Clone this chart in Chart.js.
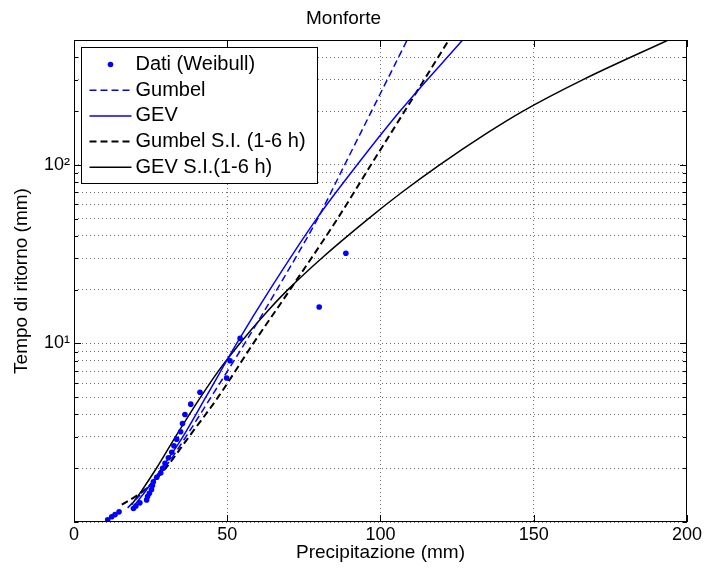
<!DOCTYPE html>
<html>
<head>
<meta charset="utf-8">
<title>Monforte</title>
<script src="https://cdn.jsdelivr.net/npm/chart.js@4.4.1/dist/chart.umd.min.js"></script>
<style>
  html, body { margin: 0; padding: 0; background: #fff; }
</style>
</head>
<body>
<canvas id="returnPeriodChart" width="704" height="574"></canvas>
<script>
// annual maxima (mm) and their Weibull return periods (years)
var obsRain = [88.7, 80.0, 54.2, 50.9, 49.8, 41.1, 38.1, 36.2, 35.4, 34.8, 33.5,
               32.6, 31.9, 30.8, 29.7, 28.9, 28.3, 27.0, 25.9, 25.6, 25.3, 24.6,
               24.0, 23.7, 21.5, 20.2, 19.4, 14.7, 13.4, 12.3, 11.0];
var obsT = [32, 16, 10.67, 8, 6.4, 5.33, 4.57, 4, 3.56, 3.2, 2.91,
            2.67, 2.46, 2.29, 2.13, 2, 1.88, 1.78, 1.68, 1.6, 1.52, 1.45,
            1.39, 1.33, 1.28, 1.23, 1.19, 1.14, 1.1, 1.07, 1.03];

// fitted curves: return period -> precipitation
var gumbelT    = [1.2, 1.5, 2, 3, 5, 10, 20, 50, 100, 200, 500];
var gumbelRain = [17.5, 23.0, 29.5, 36.5, 44.7, 55.7, 66.2, 79.5, 88.3, 97.1, 108.7];

var gevT    = [1.2, 1.5, 2, 3, 5, 10, 20, 50, 100, 200, 500];
var gevRain = [19.0, 23.5, 28.6, 35.5, 43.0, 53.1, 63.9, 79.2, 92.4, 106.4, 126.8];

var gumbelSiT    = [1.25, 1.5, 2, 3, 5, 10, 20, 50, 100, 200, 500];
var gumbelSiRain = [15.6, 22.8, 29.9, 37.5, 47.0, 58.5, 70.5, 86.0, 96.9, 107.9, 122.3];

var gevSiT    = [1.25, 1.5, 2, 3, 5, 7, 10, 15, 20, 30, 50, 70, 100, 150, 200, 300, 500];
var gevSiRain = [18.8, 22.1, 26.9, 33.1, 41.3, 47.1, 54.1, 62.9, 69.8, 80.8, 96.1, 106.9, 119.3, 134.6, 146.5, 166.1, 193.9];

// axis ticks
var xTickValues = [0, 50, 100, 150, 200];
var yTickValues = [1, 2, 3, 4, 5, 6, 7, 8, 9, 10, 20, 30, 40, 50, 60, 70, 80, 90, 100, 200, 300, 400, 500];
var yTickLabels = { 10: '10\u00b9', 100: '10\u00b2' };

var FONT = "'Liberation Sans', Arial, Helvetica, sans-serif";

function toPoints(xs, ys) {
    return xs.map(function (v, i) { return { x: v, y: ys[i] }; });
}

function curve(label, xs, ys, color, dash, width) {
    return {
        label: label,
        data: toPoints(xs, ys),
        showLine: true,
        pointRadius: 0,
        borderColor: color,
        backgroundColor: color,
        borderWidth: width,
        borderDash: dash,
        cubicInterpolationMode: 'monotone',
        fill: false
    };
}

// box, inward ticks and the legend panel drawn over the data
var axesFrame = {
    id: 'axesFrame',
    afterDatasetsDraw: function (chart) {
        var ctx = chart.ctx, a = chart.chartArea;
        var xs = chart.scales.x, ys = chart.scales.y;
        ctx.save();
        ctx.strokeStyle = '#000';
        ctx.lineWidth = 1;
        ctx.setLineDash([]);
        ctx.beginPath();
        xTickValues.forEach(function (v) {
            var px = Math.round(xs.getPixelForValue(v)) + 0.5;
            ctx.moveTo(px, a.bottom); ctx.lineTo(px, a.bottom - 7);
            ctx.moveTo(px, a.top); ctx.lineTo(px, a.top + 7);
        });
        yTickValues.forEach(function (v) {
            var py = Math.round(ys.getPixelForValue(v)) + 0.5;
            var len = yTickLabels[v] ? 7 : 4;
            ctx.moveTo(a.left, py); ctx.lineTo(a.left + len, py);
            ctx.moveTo(a.right, py); ctx.lineTo(a.right - len, py);
        });
        ctx.stroke();
        ctx.strokeRect(Math.round(a.left) + 0.5, Math.round(a.top) + 0.5,
                       Math.round(a.width) - 1, Math.round(a.height) - 1);

        // legend
        var lx = a.left + 7.5, ly = a.top + 7.5, lw = 236, lh = 136;
        ctx.fillStyle = '#fff';
        ctx.fillRect(lx, ly, lw, lh);
        ctx.strokeRect(lx, ly, lw, lh);
        ctx.font = '20px ' + FONT;
        ctx.textBaseline = 'middle';
        chart.data.datasets.forEach(function (ds, i) {
            var cy = ly + 17 + i * 25.7;
            ctx.strokeStyle = ds.borderColor;
            ctx.fillStyle = ds.borderColor;
            if (ds.showLine) {
                ctx.lineWidth = ds.borderWidth;
                ctx.setLineDash(ds.borderDash || []);
                ctx.beginPath();
                ctx.moveTo(lx + 8, cy);
                ctx.lineTo(lx + 50, cy);
                ctx.stroke();
                ctx.setLineDash([]);
            } else {
                ctx.beginPath();
                ctx.arc(lx + 29, cy, ds.pointRadius, 0, Math.PI * 2);
                ctx.fill();
            }
            ctx.fillStyle = '#000';
            ctx.fillText(ds.label, lx + 54, cy);
        });
        ctx.restore();
    }
};

var gridStyle = { color: '#707070', lineWidth: 1, drawTicks: false };

new Chart(document.getElementById('returnPeriodChart'), {
    type: 'scatter',
    data: {
        datasets: [
            {
                label: 'Dati (Weibull)',
                data: toPoints(obsRain, obsT),
                showLine: false,
                pointRadius: 2.8,
                pointBorderWidth: 0,
                borderColor: '#0000ff',
                backgroundColor: '#0000ff'
            },
            curve('Gumbel', gumbelRain, gumbelT, '#0000ff', [7, 4], 1.5),
            curve('GEV', gevRain, gevT, '#0000ff', [], 1.5),
            curve('Gumbel S.I. (1-6 h)', gumbelSiRain, gumbelSiT, '#000000', [7, 4], 2),
            curve('GEV S.I.(1-6 h)', gevSiRain, gevSiT, '#000000', [], 1.5)
        ]
    },
    options: {
        responsive: false,
        animation: false,
        layout: { padding: { left: 0, right: 17, top: 0, bottom: 0 } },
        plugins: {
            legend: { display: false },
            tooltip: { enabled: false },
            title: {
                display: true,
                text: 'Monforte',
                color: '#000',
                font: { family: FONT, size: 19, weight: 'normal' },
                padding: { top: 7, bottom: 10.2 }
            }
        },
        scales: {
            x: {
                type: 'linear',
                min: 0,
                max: 200,
                afterFit: function (scale) { scale.height = 52; },
                afterBuildTicks: function (scale) {
                    scale.ticks = xTickValues.map(function (v) { return { value: v }; });
                },
                ticks: { color: '#000', padding: 2, font: { family: FONT, size: 18 } },
                grid: gridStyle,
                border: { display: false, dash: [1, 3] },
                title: {
                    display: true,
                    text: 'Precipitazione (mm)',
                    color: '#000',
                    font: { family: FONT, size: 19 },
                    padding: { top: 0, bottom: 10 }
                }
            },
            y: {
                type: 'logarithmic',
                min: 1,
                max: 500,
                afterFit: function (scale) { scale.width = 74; },
                afterBuildTicks: function (scale) {
                    scale.ticks = yTickValues.map(function (v) { return { value: v }; });
                },
                ticks: {
                    autoSkip: false,
                    color: '#000',
                    padding: 4,
                    font: { family: FONT, size: 18 },
                    callback: function (value) { return yTickLabels[value] || ''; }
                },
                grid: gridStyle,
                border: { display: false, dash: [1, 3] },
                title: {
                    display: true,
                    text: 'Tempo di ritorno (mm)',
                    color: '#000',
                    font: { family: FONT, size: 19 },
                    padding: { top: 10, bottom: 0 }
                }
            }
        }
    },
    plugins: [axesFrame]
});
</script>
</body>
</html>
